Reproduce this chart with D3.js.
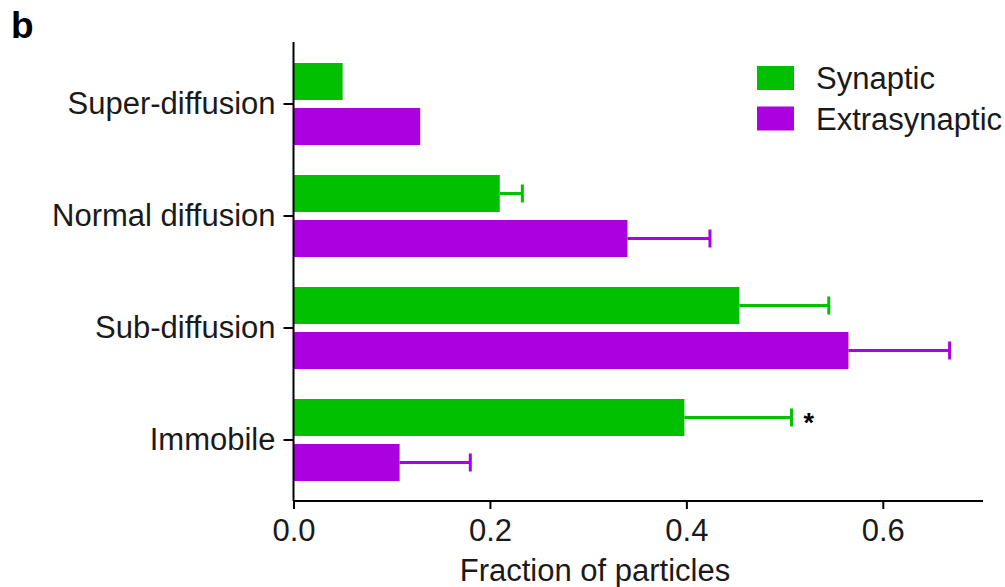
<!DOCTYPE html>
<html>
<head>
<meta charset="utf-8">
<script src="https://cdn.jsdelivr.net/npm/d3@7"></script>
<style>
  html, body { margin: 0; padding: 0; background: #fff; }
  text { font-family: "Liberation Sans", Arial, sans-serif; fill: #1a1a1a; }
</style>
</head>
<body>
<svg id="chart" width="1005" height="587"></svg>
<script>
// Diffusion modes (top to bottom)
const categories = ["Super-diffusion", "Normal diffusion", "Sub-diffusion", "Immobile"];
const seriesNames = ["Synaptic", "Extrasynaptic"];
const synapticMean = [0.050, 0.210, 0.454, 0.398];
const synapticErr  = [null, 0.023, 0.091, 0.109];
const extraMean    = [0.129, 0.340, 0.565, 0.108];
const extraErr     = [null, 0.084, 0.103, 0.072];
const xTicks = [0.0, 0.2, 0.4, 0.6];
const significance = ["", "", "", "*"]; // marks on the synaptic bar

const colors = { "Synaptic": "#00c000", "Extrasynaptic": "#ab00e0" };
const fontSize = "31px";

const rows = [];
categories.forEach((c, i) => {
  rows.push({ cat: c, series: "Synaptic", mean: synapticMean[i], err: synapticErr[i], sig: significance[i] });
  rows.push({ cat: c, series: "Extrasynaptic", mean: extraMean[i], err: extraErr[i], sig: "" });
});

const svg = d3.select("#chart");

const x = d3.scaleLinear().domain([0, 0.702]).range([293.5, 983]);
const y = d3.scaleBand().domain(categories).range([48, 496]).paddingInner(0.268).paddingOuter(0.134);
const ySub = d3.scaleBand().domain(seriesNames).range([0, y.bandwidth()]).paddingInner(0.178);

// Panel letter
svg.append("text").attr("x", 11).attr("y", 38)
  .style("font-size", "37px").style("font-weight", "bold").style("fill", "#000").text("b");

// Bars
const g = svg.append("g");
g.selectAll("rect.bar").data(rows).join("rect")
  .attr("class", "bar")
  .attr("x", x(0))
  .attr("y", d => y(d.cat) + ySub(d.series))
  .attr("width", d => x(d.mean) - x(0))
  .attr("height", ySub.bandwidth())
  .attr("fill", d => colors[d.series]);

// Error bars (upper side only)
const withErr = rows.filter(d => d.err != null);
const capH = 18;
g.selectAll("line.err").data(withErr).join("line")
  .attr("x1", d => x(d.mean)).attr("x2", d => x(d.mean + d.err))
  .attr("y1", d => y(d.cat) + ySub(d.series) + ySub.bandwidth() / 2)
  .attr("y2", d => y(d.cat) + ySub(d.series) + ySub.bandwidth() / 2)
  .attr("stroke", d => colors[d.series]).attr("stroke-width", 3);
g.selectAll("line.cap").data(withErr).join("line")
  .attr("x1", d => x(d.mean + d.err)).attr("x2", d => x(d.mean + d.err))
  .attr("y1", d => y(d.cat) + ySub(d.series) + ySub.bandwidth() / 2 - capH / 2)
  .attr("y2", d => y(d.cat) + ySub(d.series) + ySub.bandwidth() / 2 + capH / 2)
  .attr("stroke", d => colors[d.series]).attr("stroke-width", 3);

// Significance marks
g.selectAll("text.sig").data(rows.filter(d => d.sig)).join("text")
  .attr("x", d => x(d.mean + (d.err || 0)) + 12)
  .attr("y", d => y(d.cat) + ySub(d.series) + ySub.bandwidth() / 2 + 14)
  .style("font-size", "27px").style("font-weight", "bold").style("fill", "#000")
  .text(d => d.sig);

// Axes
const xAxis = svg.append("g").attr("transform", "translate(0,501)")
  .call(d3.axisBottom(x).tickValues(xTicks).tickFormat(d3.format(".1f")).tickSize(8).tickPadding(10));
const yAxis = svg.append("g").attr("transform", "translate(293.5,0)")
  .call(d3.axisLeft(y).tickSize(10).tickPadding(8));

[xAxis, yAxis].forEach(ax => {
  ax.select(".domain").attr("stroke", "#000").attr("stroke-width", 2);
  ax.selectAll(".tick line").attr("stroke", "#000").attr("stroke-width", 2);
  ax.selectAll(".tick text").style("font-size", fontSize).style("font-family", "Liberation Sans, Arial, sans-serif").attr("fill", "#1a1a1a");
});
xAxis.select(".domain").attr("d", `M${x(0)},0H${x.range()[1]}`);
yAxis.select(".domain").attr("d", `M0,42V501`);

// Axis title
svg.append("text").attr("x", 595).attr("y", 581).attr("text-anchor", "middle")
  .style("font-size", fontSize).text("Fraction of particles");

// Legend
const legend = svg.append("g").attr("transform", "translate(757,66)");
seriesNames.forEach((s, i) => {
  const lg = legend.append("g").attr("transform", `translate(0,${i * 40.5})`);
  lg.append("rect").attr("width", 37).attr("height", 24).attr("fill", colors[s]);
  lg.append("text").attr("x", 59).attr("y", 12).attr("dy", "0.36em")
    .style("font-size", fontSize).text(s);
});
</script>
</body>
</html>
